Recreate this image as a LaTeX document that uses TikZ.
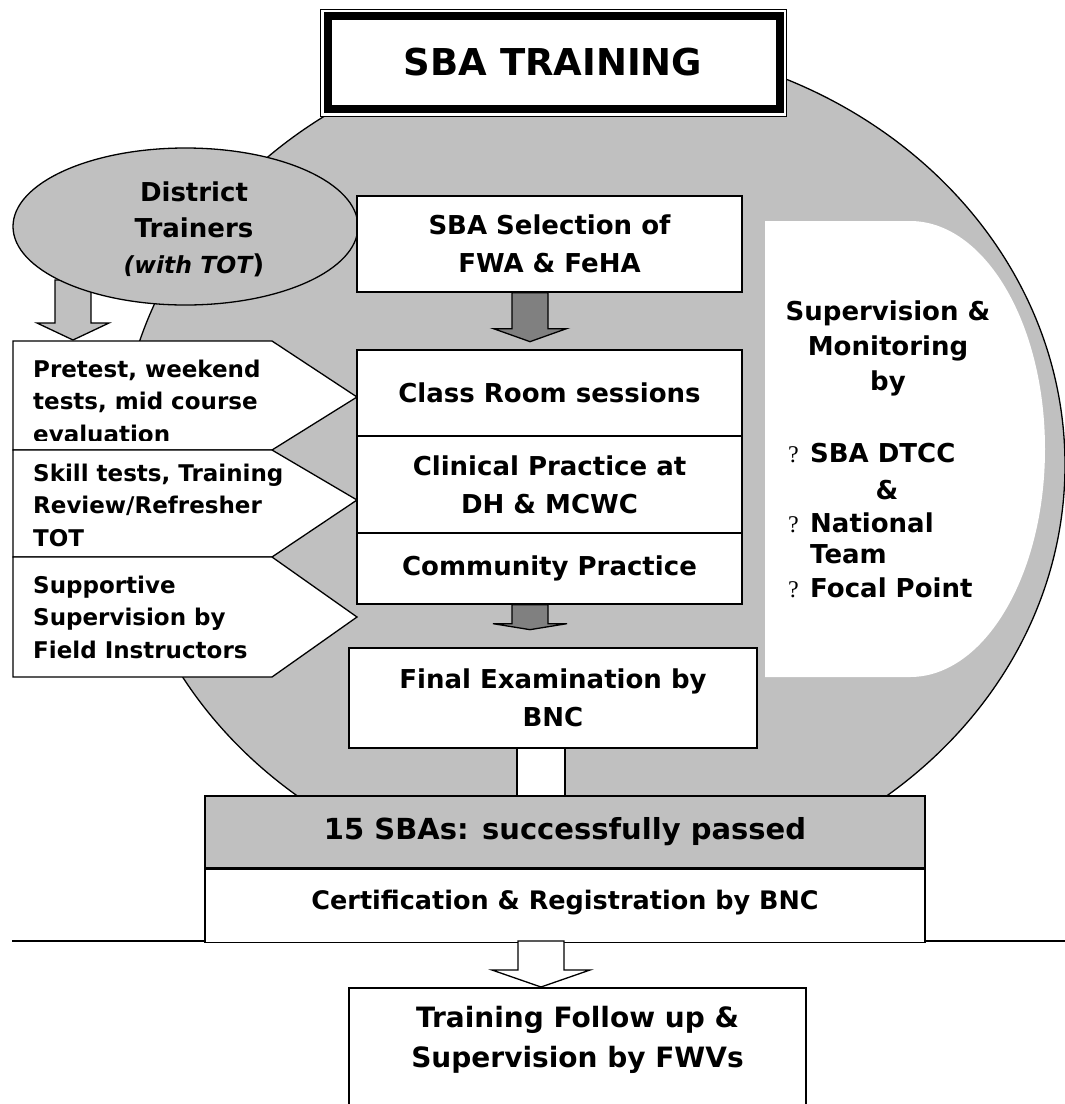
\documentclass[tikz,border=0pt]{standalone}
\usepackage{fontspec}
\setmainfont{DejaVu Sans}
\newfontfamily\serifq{Liberation Serif}
\usetikzlibrary{calc}
\definecolor{lgray}{HTML}{C0C0C0}
\definecolor{dgray}{HTML}{808080}
\newcommand\fs[2]{\fontsize{#1}{#2}\selectfont\bfseries}
\newcommand\qb{\makebox[22pt][l]{\serifq\mdseries\fontsize{24}{24}\selectfont ?}}
% #1 style, #2 top-centre coordinate, #3 shaft length, #4 head length, #5 shaft half width, #6 head half width
\newcommand\blkarrow[6]{%
  \draw[#1] ($(#2)+(-#5,0)$) -- ++(0,#3) -- ++(-#6+#5,0) -- ++(#6,#4) -- ++(#6,-#4) -- ++(-#6+#5,0) -- ++(0,-#3) -- cycle;}
\begin{document}
\begin{tikzpicture}[x=1pt,y=-1pt,
  outl/.style={draw=black,line width=1.3pt},
  boxnode/.style={outl,fill=white,align=center,inner sep=0pt,font=\fs{26}{38}},
  lefttxt/.style={align=left,anchor=west,inner sep=0pt,font=\fs{23}{32.5}},
]
\useasboundingbox[fill=white] (0,0) rectangle (1065,1104);

% big circle
\draw[outl,fill=lgray] (592,465) ellipse [x radius=473pt, y radius=423pt];

% horizontal rule
\coordinate (hl) at (12,941);
\coordinate (hr) at (1065,941);
\draw[line width=1.5pt] (hl) -- (hr);

% title box
\draw[line width=1pt,fill=white] (320,9) rectangle (786,116);
\draw[line width=8pt] (327.5,16) rectangle (779.5,109);
\node[font=\fs{37}{44}] (title) at (553,62) {SBA TRAINING};

% district trainers
\coordinate (d1) at (73,280);
\blkarrow{outl,fill=lgray}{d1}{43}{17}{18}{36}
\draw[outl,fill=lgray] (185.5,226.5) ellipse [x radius=172.5pt, y radius=78.5pt];
\node[font=\fs{26}{36},align=center] (dt) at (194,229) {District\\Trainers\\{\fontsize{23.5}{36}\selectfont\itshape (with TOT})};

% left pentagons
\draw[outl,fill=white] (13,341) -- (272,341) -- (357,397) -- (272,450) -- (13,450) -- cycle;
\draw[outl,fill=white] (13,450) -- (272,450) -- (357,500) -- (272,557) -- (13,557) -- cycle;
\draw[outl,fill=white] (13,557) -- (272,557) -- (357,617) -- (272,677) -- (13,677) -- cycle;
\begin{scope}
  \clip (13,341) rectangle (357,440);
  \node[lefttxt] (p1) at (33,401) {Pretest, weekend\\tests, mid course\\evaluation};
\end{scope}
\node[lefttxt] (p2) at (33,505) {Skill tests, Training\\Review/Refresher\\TOT};
\node[lefttxt] (p3) at (33,617) {Supportive\\Supervision by\\Field Instructors};

% middle column
\node[boxnode, minimum width=385pt, minimum height=96pt] (sel) at (549.5,244) {SBA Selection of\\FWA \& FeHA};
\node[boxnode, minimum width=385pt, minimum height=86pt] (cls) at (549.5,393) {Class Room sessions};
\node[boxnode, minimum width=385pt, minimum height=97pt] (cli) at (549.5,484.5) {Clinical Practice at\\DH \& MCWC};
\node[boxnode, minimum width=385pt, minimum height=71pt] (com) at (549.5,568.5) {Community Practice};
\coordinate (a1) at ($(sel.south)+(-19.5,0)$);
\blkarrow{outl,fill=dgray}{a1}{36}{13}{18}{36.5}
\coordinate (a2) at ($(com.south)+(-19.5,0)$);
\blkarrow{outl,fill=dgray}{a2}{19}{6}{18}{37}

% supervision panel
\fill[white] (765,221) -- (910,221) arc[start angle=90,end angle=-90,x radius=135pt,y radius=228pt] -- (765,677) -- cycle;
\node[font=\fs{26}{35},align=center] (sup) at (888,348) {Supervision \&\\Monitoring\\by};
\node[font=\fs{26}{31},anchor=west,inner sep=0pt] (b1) at (788,453) {\qb SBA DTCC};
\node[font=\fs{26}{31}] (amp) at (887,490) {\&};
\node[font=\fs{26}{31},anchor=west,align=left,inner sep=0pt] (b2) at (788,538) {\qb National\\\hspace*{22pt}Team};
\node[font=\fs{26}{31},anchor=west,inner sep=0pt] (b3) at (788,588) {\qb Focal Point};

% final examination and results
\node[boxnode, minimum width=408pt, minimum height=100pt] (fin) at (553,698) {Final Examination by\\BNC};
\draw[outl,fill=white] ($(fin.south)+(-36,0)$) rectangle ($(fin.south)+(12,48)$);
\node[boxnode, fill=lgray, minimum width=720pt, minimum height=72pt, font=\fs{29}{34}] (pass) at (565,832) {15 SBAs: successfully passed};
\node[boxnode, minimum width=720pt, minimum height=73pt, anchor=north, font=\fs{25.5}{30}] (cert) at (pass.south) {\raisebox{12pt}{Certification \& Registration by BNC}};

% follow up
\coordinate (a3) at (541,941);
\blkarrow{outl,fill=white}{a3}{29}{17}{23}{49}
\draw[outl,fill=white] (349,1108) -- (349,988) -- (806,988) -- (806,1108);
\node[font=\fs{28}{40},align=center] (fwv) at (577.5,1040) {Training Follow up \&\\Supervision by FWVs};
\end{tikzpicture}
\end{document}
